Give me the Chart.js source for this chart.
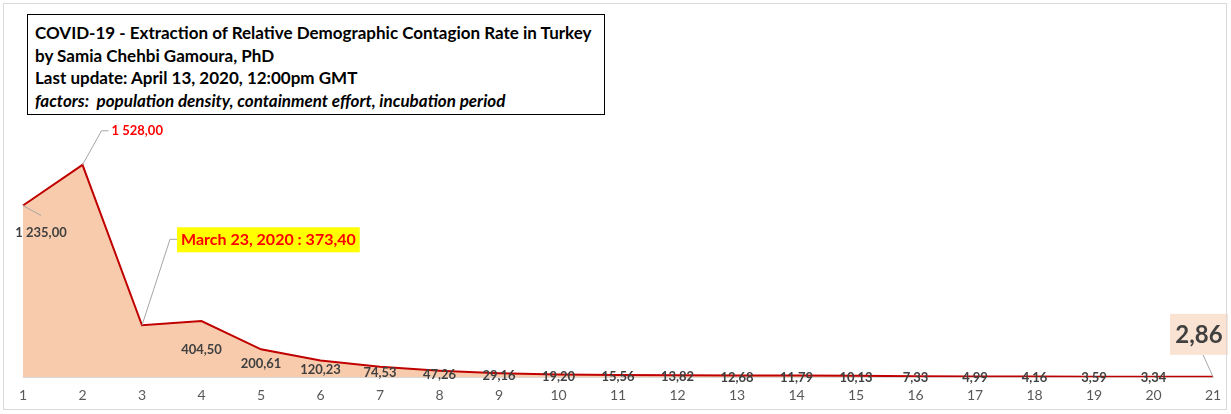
<!DOCTYPE html>
<html>
<head>
<meta charset="utf-8">
<script src="https://cdn.jsdelivr.net/npm/chart.js@4"></script>
<style>
  html, body { margin: 0; padding: 0; background: #fff; }
  #wrap { position: relative; width: 1231px; height: 414px; }
  #frame { position: absolute; left: 3px; top: 3px; width: 1224px; height: 407px; border: 1px solid #d9d9d9; box-sizing: border-box; pointer-events: none; }
  #titleBox {
    position: absolute; left: 27px; top: 14px; width: 578px; height: 101px;
    border: 1.5px solid #000; box-sizing: border-box; background: #fff;
    font-family: Lato, "Open Sans", sans-serif; font-weight: bold; font-size: 17px;
    color: #000; padding: 7px 0 0 7px; line-height: 22.5px; z-index: 2;
  }
  #titleBox .it { font-style: italic; }
</style>
</head>
<body>
<div id="wrap">
  <canvas id="line" width="1231" height="414"></canvas>
  <div id="frame"></div>
  <div id="titleBox">
    <div>COVID-19 - Extraction of Relative Demographic Contagion Rate in Turkey</div>
    <div>by Samia Chehbi Gamoura, PhD</div>
    <div>Last update: April 13, 2020, 12:00pm GMT</div>
    <div class="it">factors:&nbsp; population density, containment effort, incubation period</div>
  </div>
</div>
<script>
const days = ["1","2","3","4","5","6","7","8","9","10","11","12","13","14","15","16","17","18","19","20","21"];
const contagionRate = [1235.00, 1528.00, 373.40, 404.50, 200.61, 120.23, 74.53, 47.26, 29.16, 19.20,
  15.56, 13.82, 12.68, 11.79, 10.13, 7.33, 4.99, 4.16, 3.59, 3.34, 2.86];
const markedDate = "March 23, 2020";

Chart.defaults.font.family = "Lato, 'Open Sans', sans-serif";

function fmt(v) {
  let parts = v.toFixed(2).split(".");
  let int = parts[0].replace(/\B(?=(\d{3})+(?!\d))/g, " ");
  return int + "," + parts[1];
}

const labelsPlugin = {
  id: 'pointLabels',
  afterDatasetsDraw: (chart) => {
    const {ctx} = chart;
    const pts = chart.getDatasetMeta(0).data;
    const base = chart.scales.y.getPixelForValue(0);
    ctx.save();
    ctx.lineWidth = 1;
    ctx.strokeStyle = '#a6a6a6';

    // regular labels, halfway between point and axis
    ctx.font = "bold 13px Lato, 'Open Sans', sans-serif";
    ctx.fillStyle = '#404040';
    ctx.textAlign = 'center';
    ctx.textBaseline = 'middle';
    for (let i = 3; i < pts.length - 1; i++) {
      const p = pts[i];
      const y = base - (base - p.y) / 2 + 1;
      ctx.fillText(fmt(contagionRate[i]), p.x, y);
    }

    // point 1
    let p = pts[0];
    ctx.beginPath();
    ctx.moveTo(p.x, p.y);
    ctx.lineTo(p.x + 18, p.y + 10);
    ctx.stroke();
    ctx.fillText(fmt(contagionRate[0]), p.x + 18, p.y + 27);

    // peak
    p = pts[1];
    ctx.beginPath();
    ctx.moveTo(p.x, p.y);
    ctx.lineTo(p.x + 19, p.y - 34);
    ctx.lineTo(p.x + 26, p.y - 34);
    ctx.stroke();
    ctx.fillStyle = '#ff0000';
    ctx.textAlign = 'left';
    ctx.fillText(fmt(contagionRate[1]), p.x + 29, p.y - 34);

    // marked date
    p = pts[2];
    ctx.beginPath();
    ctx.moveTo(p.x, p.y);
    ctx.lineTo(p.x + 28, p.y - 86);
    ctx.lineTo(p.x + 35, p.y - 86);
    ctx.stroke();
    ctx.font = "bold 16px Lato, 'Open Sans', sans-serif";
    const txt = markedDate + " : " + fmt(contagionRate[2]);
    const w = ctx.measureText(txt).width + 8;
    ctx.fillStyle = '#ffff00';
    ctx.fillRect(p.x + 35, p.y - 98, w, 25);
    ctx.fillStyle = '#ff0000';
    ctx.textAlign = 'left';
    ctx.fillText(txt, p.x + 39, p.y - 85);

    // last value
    p = pts[pts.length - 1];
    ctx.beginPath();
    ctx.moveTo(p.x, p.y);
    ctx.lineTo(p.x - 10, p.y - 22);
    ctx.stroke();
    ctx.fillStyle = '#fbe3d4';
    ctx.fillRect(p.x - 43, p.y - 63, 58, 41);
    ctx.fillStyle = '#404040';
    ctx.font = "bold 24px Lato, 'Open Sans', sans-serif";
    ctx.textAlign = 'center';
    ctx.fillText(fmt(contagionRate[contagionRate.length - 1]), p.x - 14, p.y - 42);
    ctx.restore();
  }
};

const line = document.getElementById("line").getContext("2d");
new Chart(line, {
  type: "line",
  data: {
    labels: days,
    datasets: [{
      data: contagionRate,
      borderColor: "#c00000",
      borderWidth: 2,
      backgroundColor: "#f8cbad",
      fill: 'origin',
      pointRadius: 0,
      tension: 0
    }]
  },
  plugins: [labelsPlugin],
  options: {
    responsive: false,
    animation: false,
    layout: { padding: { left: 23, right: 18, top: 127, bottom: 8 } },
    plugins: { legend: { display: false }, tooltip: { enabled: false } },
    scales: {
      x: {
        offset: false,
        grid: { display: false },
        border: { display: true, color: '#d9d9d9', width: 1 },
        ticks: { color: '#595959', font: { size: 14 }, padding: 2, maxRotation: 0, autoSkip: false }
      },
      y: {
        display: false,
        min: 0,
        max: 1800
      }
    }
  }
});
</script>
</body>
</html>
